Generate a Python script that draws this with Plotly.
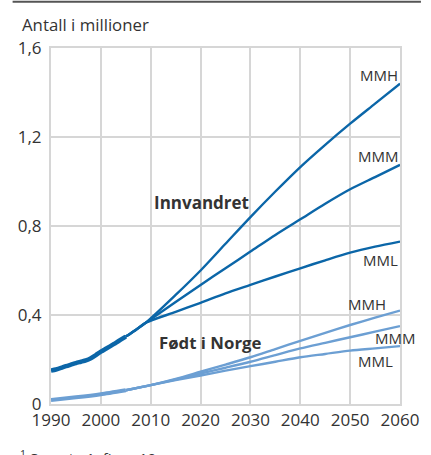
import plotly.graph_objects as go

# Historical (registered) values, millions
hist_years = list(range(1990, 2006))
innv_hist = [0.150, 0.155, 0.162, 0.170, 0.177, 0.184, 0.190, 0.196,
             0.206, 0.220, 0.235, 0.248, 0.261, 0.275, 0.289, 0.303]
fodt_hist_years = [1990, 1995, 2000, 2005]
fodt_hist = [0.018, 0.030, 0.044, 0.062]

# Projections, Innvandret
innv_proj_years = [2005, 2007, 2009, 2015, 2020, 2025, 2030, 2035, 2040, 2045, 2050, 2055, 2060]
innv_mmh = [0.303, 0.333, 0.365, 0.49, 0.60, 0.72, 0.84, 0.955, 1.065, 1.165, 1.26, 1.35, 1.44]
innv_mmm = [0.303, 0.333, 0.365, 0.458, 0.535, 0.61, 0.685, 0.76, 0.83, 0.90, 0.965, 1.02, 1.075]
innv_mml = [0.303, 0.333, 0.365, 0.414, 0.455, 0.497, 0.535, 0.573, 0.61, 0.646, 0.68, 0.707, 0.73]

# Projections, Født i Norge (with immigrant parents)
fodt_proj_years = [2005, 2010, 2015, 2020, 2025, 2030, 2035, 2040, 2045, 2050, 2055, 2060]
fodt_mmh = [0.062, 0.085, 0.113, 0.145, 0.177, 0.21, 0.247, 0.284, 0.32, 0.355, 0.388, 0.42]
fodt_mmm = [0.062, 0.085, 0.110, 0.137, 0.163, 0.19, 0.22, 0.25, 0.275, 0.30, 0.325, 0.35]
fodt_mml = [0.062, 0.085, 0.107, 0.128, 0.15, 0.17, 0.19, 0.21, 0.225, 0.24, 0.25, 0.26]

x_ticks = [1990, 2000, 2010, 2020, 2030, 2040, 2050, 2060]
y_ticks = [0, 0.4, 0.8, 1.2, 1.6]
y_tick_text = ["0", "0,4", "0,8", "1,2", "1,6"]

DARK = "#0b66a8"
LIGHT = "#6c9fd3"
TXT = "#333333"
GRID = "#d6d6d6"

fig = go.Figure()

for ys in (innv_mml, innv_mmm, innv_mmh):
    fig.add_trace(go.Scatter(x=innv_proj_years, y=ys, mode="lines",
                             line=dict(color=DARK, width=2.4, shape="spline", smoothing=0.8),
                             hoverinfo="skip", showlegend=False))
for ys in (fodt_mml, fodt_mmm, fodt_mmh):
    fig.add_trace(go.Scatter(x=fodt_proj_years, y=ys, mode="lines",
                             line=dict(color=LIGHT, width=2.4, shape="spline", smoothing=0.8),
                             hoverinfo="skip", showlegend=False))
fig.add_trace(go.Scatter(x=hist_years, y=innv_hist, mode="lines",
                         line=dict(color=DARK, width=4.5, shape="spline", smoothing=0.6),
                         hoverinfo="skip", showlegend=False))
fig.add_trace(go.Scatter(x=fodt_hist_years, y=fodt_hist, mode="lines",
                         line=dict(color=LIGHT, width=4, shape="spline", smoothing=0.6),
                         hoverinfo="skip", showlegend=False))

font_main = "Open Sans, Noto Sans, sans-serif"

anns = []
def lab(text, x, y, size=15, bold=False, xanchor="right", xref="x"):
    anns.append(dict(text=("<b>%s</b>" % text) if bold else text, x=x, y=y,
                     xref=xref, yref="y", showarrow=False, xanchor=xanchor,
                     yanchor="middle", font=dict(size=size, color=TXT, family=font_main)))

# scenario labels
lab("MMH", 2060, 1.48)
lab("MMM", 2060, 1.115)
lab("MML", 2060, 0.645)
lab("MMH", 2057.5, 0.45)
lab("MMM", 1.05, 0.297, xref="paper")
lab("MML", 2059, 0.193)
lab("Innvandret", 2020.2, 0.905, size=17, bold=True, xanchor="center")
lab("Født i Norge", 2021.8, 0.275, size=16.8, bold=True, xanchor="center")

anns.append(dict(text="Antall i millioner", xref="paper", yref="paper",
                 x=-0.09, y=1.067, xanchor="left", yanchor="middle", showarrow=False,
                 font=dict(size=16.8, color=TXT, family=font_main)))
anns.append(dict(text="<sup>1</sup> Se note 1, figur 10.", xref="paper", yref="paper",
                 x=-0.095, y=-0.115, xanchor="left", yanchor="top", showarrow=False,
                 font=dict(size=15, color=TXT, family=font_main)))

fig.update_layout(
    width=431, height=455,
    margin=dict(l=51, r=18, t=48, b=51),
    paper_bgcolor="white", plot_bgcolor="white",
    annotations=anns,
    shapes=[dict(type="line", xref="paper", yref="paper", x0=-0.11, x1=1.06,
                 y0=1.13, y1=1.13, line=dict(color="#555555", width=2))],
    xaxis=dict(range=[1990, 2060], tickvals=x_ticks, showgrid=True, gridcolor=GRID,
               gridwidth=2, showline=True, mirror=True, linecolor=GRID, linewidth=2,
               zeroline=False, ticks="", ticklabeloverflow="allow",
               tickfont=dict(size=17, color=TXT, family=font_main), fixedrange=True),
    yaxis=dict(range=[0, 1.6], tickvals=y_ticks, ticktext=y_tick_text, showgrid=True,
               gridcolor=GRID, gridwidth=2, showline=True, mirror=True, linecolor=GRID,
               linewidth=2, zeroline=False, ticks="", ticklabelstandoff=4,
               ticklabeloverflow="allow",
               tickfont=dict(size=17, color=TXT, family=font_main), fixedrange=True),
)

fig.write_html("out.html", config={"displayModeBar": False},
               post_script="document.body.style.margin='0';document.body.style.overflow='hidden';")
